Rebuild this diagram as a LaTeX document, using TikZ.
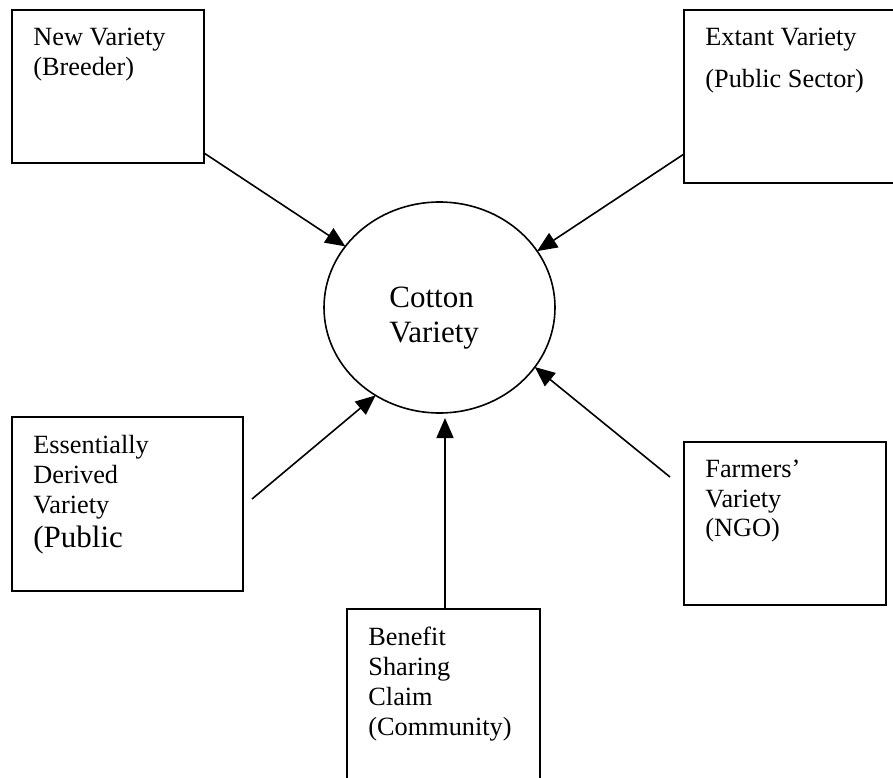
\documentclass[tikz,border=0pt]{standalone}
\usepackage{fontspec}
\setmainfont{Liberation Serif}
\usetikzlibrary{arrows.meta,shapes.geometric,calc}
\begin{document}
\begin{tikzpicture}[x=0.5pt,y=-0.5pt,
  box/.style={draw,line width=1pt,rectangle,inner sep=0pt,outer sep=0pt},
  oval/.style={draw,line width=0.8pt,ellipse,inner sep=0pt,outer sep=0pt},
  lbl/.style={anchor=base west,inner sep=0pt,font=\fontsize{13.15}{15}\selectfont},
  biglbl/.style={anchor=base west,inner sep=0pt,font=\fontsize{15.5}{18}\selectfont},
  conn/.style={line width=0.8pt,-{Triangle[length=10pt,width=8.5pt]}}]
\useasboundingbox (0,0) rectangle (893,777);
\clip (0,0) rectangle (893,777);

% boxes
\node[box,minimum width=96pt,minimum height=76.5pt] (b1) at (108,86.5) {};
\node[box,minimum width=113pt,minimum height=86.5pt] (b2) at (797,96.5) {};
\node[box,minimum width=115.5pt,minimum height=87pt] (b3) at (127.5,504) {};
\node[box,minimum width=96.5pt,minimum height=95.5pt] (b4) at (443.5,704.5) {};
\node[box,minimum width=101pt,minimum height=81.5pt] (b5) at (785,523.5) {};

% central ellipse
\node[oval,minimum width=115.5pt,minimum height=105.5pt] (c) at (439.5,307.5) {};
\node[biglbl] (ct1) at (389,307) {Cotton};
\node[biglbl] (ct2) at (389,342) {Variety};

% texts
\node[lbl] (t1a) at (33,45) {New Variety};
\node[lbl] (t1b) at (33,75) {(Breeder)};

\node[lbl] (t2a) at (705,45) {Extant Variety};
\node[lbl] (t2b) at (705,87) {(Public Sector)};

\node[lbl] (t3a) at (33,453) {Essentially};
\node[lbl] (t3b) at (33,483) {Derived};
\node[lbl] (t3c) at (33,513) {Variety};
\node[biglbl] (t3d) at (33,547) {(Public};

\node[lbl] (t4a) at (368,645) {Benefit};
\node[lbl] (t4b) at (368,675) {Sharing};
\node[lbl] (t4c) at (368,705) {Claim};
\node[lbl] (t4d) at (368,735) {(Community)};

\node[lbl] (t5a) at (705,477) {Farmers’};
\node[lbl] (t5b) at (705,507) {Variety};
\node[lbl] (t5c) at (705,536) {(NGO)};

% connector start points
\coordinate (s1) at ($(b1.south east)+(0,-10)$);
\coordinate (s2) at ($(b2.south west)+(0,-29)$);
\coordinate (s3) at ($(b3.east)+(9,-5)$);
\coordinate (s4) at ($(b4.north)+(1.5,0)$);
\coordinate (s5) at ($(b5.west)+(-14,-46.5)$);
\coordinate (e4) at ($(c.south)+(5.5,5)$);

% connectors
\draw[conn] (s1) -- (c.147.4);
\draw[conn] (s2) -- (c.30);
\draw[conn] (s3) -- (c.234.5);
\draw[conn] (s4) -- (e4);
\draw[conn] (s5) -- (c.328);
\end{tikzpicture}
\end{document}
